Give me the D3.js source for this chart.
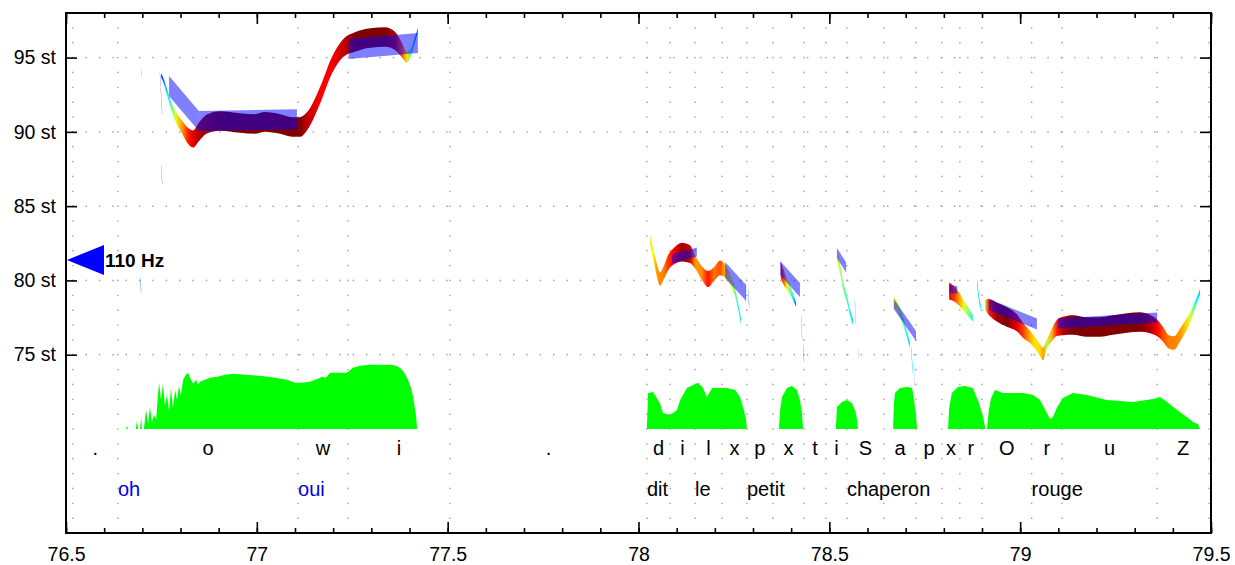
<!DOCTYPE html>
<html>
<head>
<meta charset="utf-8">
<script src="https://cdn.jsdelivr.net/npm/d3@7"></script>
<style>
  body { margin: 0; background: #fff; }
  svg { display: block; font-family: "Liberation Sans", Arial, sans-serif; }
</style>
</head>
<body>
<svg id="chart" width="1235" height="565"></svg>
<script>
// ---- time axis and pitch axis ----
const xMajorTicks = [76.5, 77, 77.5, 78, 78.5, 79, 79.5];
const yTicks = [75, 80, 85, 90, 95];
const refHz = 110;

// ---- segmentation tiers ----
const phoneLabels = [".", "o", "w", "i", ".", "d", "i", "l", "x", "p", "x", "t", "i", "S", "a", "p", "x", "r", "O", "r", "u", "Z"];
const phoneBounds = [76.518, 76.636, 77.108, 77.239, 77.506, 78.022, 78.083, 78.148, 78.219, 78.284, 78.352,
                     78.434, 78.491, 78.546, 78.643, 78.727, 78.795, 78.842, 78.900, 79.030, 79.110, 79.359, 79.495];
const wordLabels = ["oh", "oui", "dit", "le", "petit", "chaperon", "rouge"];
const wordStarts = [76.636, 77.108, 78.022, 78.148, 78.284, 78.546, 79.030];
const wordSpeaker = [1, 1, 0, 0, 0, 0, 0];

// ---- intensity envelopes: [time s, dB] ----
const intensityOhOui = [[76.657,40],[76.660,41.5],[76.662,40],[76.683,40],[76.686,44],[76.689,40],[76.694,40],[76.697,45.5],[76.699,40],
  [76.704,40],[76.710,49.5],[76.715,42.5],[76.720,51],[76.725,43.5],[76.731,47],[76.736,44.5],[76.741,57],[76.744,63],[76.749,54.5],
  [76.754,62.5],[76.759,52],[76.765,57],[76.770,48.5],[76.775,60.5],[76.780,50.5],[76.786,59.5],[76.791,54.5],[76.796,61.5],[76.801,57],
  [76.807,64.5],[76.814,67],[76.820,68],[76.825,65.5],[76.833,62.5],[76.841,64.5],[76.846,62],[76.851,63.5],[76.864,64.5],[76.877,65.5],
  [76.896,66],[76.917,67],[76.938,67.5],[76.969,67],[77.008,66.5],[77.048,65.5],[77.079,64.5],[77.100,63],[77.118,63],[77.139,63.5],
  [77.160,65],[77.171,66],[77.181,65.5],[77.192,68],[77.218,68],[77.236,68],[77.252,70.5],[77.270,71.5],[77.297,72],[77.323,72],
  [77.349,72],[77.365,71.5],[77.378,70],[77.388,67.5],[77.396,64.5],[77.404,60.5],[77.409,56.5],[77.414,50.5],[77.417,47],[77.420,40]];
const intensityDitLe = [[78.022,40],[78.025,58],[78.038,58.5],[78.056,53],[78.064,48],[78.083,47],[78.101,49.5],[78.109,54.5],[78.127,60.5],
  [78.156,63],[78.169,60.5],[78.179,56],[78.193,60.5],[78.214,60.5],[78.232,60.5],[78.253,59.5],[78.266,56],[78.276,49.5],[78.282,44.5],[78.284,40]];
const intensityPe = [[78.368,40],[78.371,49.5],[78.376,56],[78.389,60.5],[78.402,61.5],[78.415,59.5],[78.423,54.5],[78.428,48.5],[78.431,40]];
const intensityTi = [[78.517,40],[78.520,51],[78.533,53.5],[78.546,54.5],[78.559,53],[78.567,49.5],[78.572,45.5],[78.575,40]];
const intensityCha = [[78.667,40],[78.669,52],[78.672,58],[78.685,60.5],[78.704,61],[78.717,60.5],[78.722,54.5],[78.727,47],[78.730,40]];
const intensityPe2 = [[78.811,40],[78.814,50.5],[78.821,58],[78.837,61],[78.855,61.5],[78.876,60.5],[78.892,53],[78.903,46],[78.908,41],[78.910,40]];
const intensityRouge = [[78.913,40],[78.918,49.5],[78.924,55.5],[78.934,59.5],[78.955,58],[78.986,58],[79.007,58],[79.034,57],[79.052,54.5],
  [79.070,48],[79.078,45],[79.086,46],[79.097,51],[79.112,55.5],[79.138,58],[79.175,57],[79.227,54.5],[79.296,53.5],[79.348,55],
  [79.366,56],[79.385,53.5],[79.411,49.5],[79.437,46],[79.453,43.5],[79.466,42.5],[79.471,40]];

// ---- pitch contours: [time s, semitones, voicing strength 0..1] ----
const pitchOhOui = [[76.749,93.83,0.15],[76.757,93.36,0.25],[76.765,92.68,0.35],[76.775,91.81,0.45],[76.788,91.00,0.6],[76.804,90.33,0.72],
  [76.820,89.72,0.85],[76.833,89.52,0.9],[76.848,89.99,0.95],[76.869,90.53,0.97],[76.903,90.73,1],[76.956,90.60,1],[76.995,90.53,1],
  [77.021,90.67,1],[77.061,90.53,1],[77.092,90.33,1],[77.113,90.33,1],[77.134,90.80,0.93],[77.166,92.48,0.88],[77.197,94.50,0.88],
  [77.226,95.64,0.93],[77.257,96.05,1],[77.297,96.32,1],[77.336,96.38,1],[77.362,96.12,0.95],[77.380,95.51,0.8],[77.393,95.04,0.65],
  [77.404,95.38,0.45],[77.414,96.18,0.3],[77.422,96.86,0.2]];
const pitchDitLe = [[78.030,82.72,0.58],[78.038,81.85,0.62],[78.048,80.70,0.72],[78.056,80.10,0.74],[78.067,80.57,0.75],[78.077,81.17,0.82],
  [78.093,81.64,0.88],[78.114,81.91,0.97],[78.135,81.77,0.93],[78.150,81.17,0.72],[78.166,80.50,0.74],[78.182,80.10,0.86],[78.198,80.43,0.76],
  [78.214,80.84,0.8],[78.229,80.57,0.68],[78.242,79.96,0.6],[78.253,79.22,0.5],[78.261,78.28,0.4],[78.269,77.20,0.33]];
const pitchPe = [[78.373,80.70,0.88],[78.381,80.16,0.78],[78.389,79.76,0.62],[78.397,79.36,0.5],[78.405,78.88,0.38],[78.413,78.35,0.2]];
const pitchTi = [[78.520,81.64,0.6],[78.528,80.84,0.55],[78.536,79.69,0.5],[78.547,78.68,0.45],[78.554,77.87,0.38],[78.562,77.20,0.32]];
const pitchCha = [[78.669,78.55,0.62],[78.680,78.14,0.58],[78.690,77.54,0.5],[78.698,76.87,0.45],[78.706,76.13,0.38],[78.711,75.65,0.32]];
const pitchPe2 = [[78.814,79.29,0.9],[78.827,79.09,0.82],[78.840,78.75,0.72],[78.853,78.28,0.6],[78.866,77.81,0.5],[78.876,77.47,0.4]];
const pitchRouge = [[78.908,78.35,0.55],[78.918,78.21,0.85],[78.939,77.87,0.97],[78.965,77.54,1.0],[78.992,77.13,0.9],[79.007,76.66,0.82],
  [79.026,76.19,0.7],[79.039,75.79,0.65],[79.052,75.32,0.66],[79.060,75.05,0.72],[79.070,75.72,0.55],[79.083,76.33,0.7],[79.096,76.80,0.85],
  [79.112,76.93,0.95],[79.138,77.00,1.0],[79.175,76.87,1.0],[79.209,76.87,1.0],[79.243,77.00,1.0],[79.280,77.13,1.0],[79.314,77.20,1.0],
  [79.340,77.07,0.95],[79.359,76.80,0.88],[79.374,76.39,0.8],[79.390,75.86,0.75],[79.403,75.79,0.75],[79.419,76.33,0.73],[79.432,76.87,0.68],
  [79.445,77.47,0.6],[79.453,78.01,0.5],[79.463,78.68,0.38],[79.471,79.22,0.3]];
// short unstable pitch fragments
const pitchFragments = [
  [[76.746,93.96,0.12],[76.752,91.27,0.12]],
  [[76.749,87.77,0.12],[76.752,86.56,0.12]],
  [[76.694,80.16,0.2],[76.697,79.22,0.2]],
  [[76.698,94.16,0.3],[76.699,93.76,0.3]],
  [[78.279,80.23,0.15],[78.281,78.55,0.15]],
  [[78.287,79.36,0.2],[78.290,78.21,0.2]],
  [[78.426,77.54,0.15],[78.429,75.99,0.15]],
  [[78.431,75.65,0.18],[78.434,74.51,0.18]],
  [[78.567,78.68,0.2],[78.570,77.00,0.2]],
  [[78.575,75.32,0.2],[78.576,74.78,0.2]],
  [[78.714,75.45,0.35],[78.719,73.84,0.35]],
  [[78.722,74.31,0.2],[78.724,72.89,0.2]],
  [[78.887,79.96,0.3],[78.892,78.82,0.35],[78.897,78.14,0.4]]
];

// ---- stylized nuclei (glissandos) ----
const nucleusStart  = [76.770, 76.848, 77.241, 78.088, 78.227, 78.371, 78.520, 78.669, 78.814, 78.918, 79.099];
const nucleusEnd    = [76.848, 77.105, 77.422, 78.153, 78.282, 78.423, 78.544, 78.727, 78.835, 79.044, 79.359];
const nucleusStSt   = [93.09, 90.73, 95.58, 81.44, 80.70, 80.84, 81.85, 78.41, 79.42, 78.38, 77.10];
const nucleusEndSt  = [90.73, 90.85, 95.98, 81.91, 79.15, 79.36, 80.87, 76.26, 79.35, 77.07, 77.50];
const nucleusDb     = [80, 80, 80, 62.5, 73.5, 70.5, 64, 64, 61, 65.5, 64];

// ---- drawing ----
const x = d3.scaleLinear().domain([76.5, 79.5]).range([66, 1211]);
const y = d3.scaleLinear().domain([63, 98]).range([533, 13]);
const yI = d3.scaleLinear().domain([40, 80]).range([y(70), y(75.4)]);
const jet = d3.scaleLinear()
  .domain([0, 0.125, 0.375, 0.625, 0.875, 1])
  .range(["#00008f", "#0000ff", "#00ffff", "#ffff00", "#ff0000", "#800000"])
  .clamp(true);
const halfWidth = s => 0.08 + 0.58 * Math.pow(s, 1.5);   // band half-height in semitones
const glissHeight = d3.scaleLinear().domain([60, 80]).range([0.5, 1.35]);

const svg = d3.select("#chart");
const defs = svg.append("defs");
const plot = svg.append("g");

// dotted grid: rows at labelled semitones, columns at phone boundaries
const gridG = plot.append("g").attr("fill", "#a8a8a8");
const rowDots = [];
yTicks.forEach(st => {
  for (let t = 76.518; t <= 79.5; t += 0.035) rowDots.push([t, st]);
});
const colDots = [];
phoneBounds.forEach(t => {
  for (let st = 64; st <= 97; st++) colDots.push([t, st]);
});
gridG.selectAll("circle.r").data(rowDots).join("circle").attr("class", "r")
  .attr("cx", d => x(d[0])).attr("cy", d => y(d[1])).attr("r", 0.85);
gridG.selectAll("circle.c").data(colDots).join("circle").attr("class", "c")
  .attr("cx", d => x(d[0])).attr("cy", d => y(d[1])).attr("r", 0.85);

// intensity envelopes
const intensities = [intensityOhOui, intensityDitLe, intensityPe, intensityTi, intensityCha, intensityPe2, intensityRouge];
const iArea = d3.area().x(d => x(d[0])).y0(yI(40)).y1(d => yI(d[1])).curve(d3.curveLinear);
plot.append("g").selectAll("path").data(intensities).join("path")
  .attr("d", iArea).attr("fill", "#00ff00");

// pitch bands coloured by voicing strength
const contours = [pitchOhOui, pitchDitLe, pitchPe, pitchTi, pitchCha, pitchPe2, pitchRouge, ...pitchFragments];
const pArea = d3.area()
  .x(d => x(d[0]))
  .y0(d => y(d[1] - halfWidth(d[2])))
  .y1(d => y(d[1] + halfWidth(d[2])))
  .curve(d3.curveMonotoneX);
contours.forEach((c, i) => {
  const x0 = x(c[0][0]), x1 = x(c[c.length - 1][0]);
  const g = defs.append("linearGradient").attr("id", "pg" + i)
    .attr("gradientUnits", "userSpaceOnUse")
    .attr("x1", x0).attr("x2", x1).attr("y1", 0).attr("y2", 0);
  c.forEach(d => g.append("stop")
    .attr("offset", (x(d[0]) - x0) / (x1 - x0))
    .attr("stop-color", jet(d[2])));
});
plot.append("g").selectAll("path").data(contours).join("path")
  .attr("d", pArea).attr("fill", (d, i) => `url(#pg${i})`);

// glissando parallelograms
const nuclei = nucleusStart.map((t, i) => ({
  t0: t, t1: nucleusEnd[i], s0: nucleusStSt[i], s1: nucleusEndSt[i], h: glissHeight(nucleusDb[i])
}));
plot.append("g").selectAll("polygon").data(nuclei).join("polygon")
  .attr("points", d => [
    [x(d.t0), y(d.s0 + d.h / 2)], [x(d.t1), y(d.s1 + d.h / 2)],
    [x(d.t1), y(d.s1 - d.h / 2)], [x(d.t0), y(d.s0 - d.h / 2)]
  ].map(p => p.join(",")).join(" "))
  .attr("fill", "#0000ff").attr("fill-opacity", 0.5);

// phone tier
const phones = phoneLabels.map((l, i) => ({ l, t: (phoneBounds[i] + phoneBounds[i + 1]) / 2 }));
plot.append("g").selectAll("text").data(phones).join("text")
  .attr("x", d => x(d.t)).attr("y", 455)
  .attr("text-anchor", "middle").attr("font-size", 20).attr("fill", "#000")
  .text(d => d.l);

// word tier
plot.append("g").selectAll("text").data(wordLabels).join("text")
  .attr("x", (d, i) => x(wordStarts[i])).attr("y", 496)
  .attr("font-size", 20).attr("fill", (d, i) => wordSpeaker[i] ? "#0000dd" : "#000")
  .text(d => d);

// axes
const minorTicks = d3.range(0, 31).map(k => 76.5 + k * 0.1);
function styleAxis(g) {
  g.select(".domain").remove();
  g.selectAll("line").attr("stroke", "#000").attr("stroke-width", 1.6);
  g.attr("font-family", null).attr("font-size", 19.5);
  g.selectAll("text").attr("fill", "#000");
}
svg.append("g").attr("transform", `translate(0,${y(63)})`)
  .call(d3.axisBottom(x).tickValues(minorTicks).tickSizeInner(-5).tickSizeOuter(0).tickFormat(""))
  .call(styleAxis);
svg.append("g").attr("transform", `translate(0,${y(63)})`)
  .call(d3.axisBottom(x).tickValues(xMajorTicks).tickSizeInner(-11).tickSizeOuter(0).tickPadding(14.5).tickFormat(d => String(d)))
  .call(styleAxis);
svg.append("g").attr("transform", `translate(0,${y(98)})`)
  .call(d3.axisTop(x).tickValues(minorTicks).tickSizeInner(-5).tickSizeOuter(0).tickFormat(""))
  .call(styleAxis);
svg.append("g").attr("transform", `translate(0,${y(98)})`)
  .call(d3.axisTop(x).tickValues(xMajorTicks).tickSizeInner(-11).tickSizeOuter(0).tickFormat(""))
  .call(styleAxis);
svg.append("g").attr("transform", `translate(${x(76.5)},0)`)
  .call(d3.axisLeft(y).tickValues(yTicks).tickSizeInner(-11).tickSizeOuter(0).tickPadding(10).tickFormat(d => d + " st"))
  .call(styleAxis);
svg.append("g").attr("transform", `translate(${x(79.5)},0)`)
  .call(d3.axisRight(y).tickValues(yTicks).tickSizeInner(-11).tickSizeOuter(0).tickFormat(""))
  .call(styleAxis);

// frame
svg.append("rect")
  .attr("x", x(76.5)).attr("y", y(98))
  .attr("width", x(79.5) - x(76.5)).attr("height", y(63) - y(98))
  .attr("fill", "none").attr("stroke", "#000").attr("stroke-width", 2);

// reference pitch marker
const refSt = 12 * Math.log2(refHz);
const ry = y(refSt), rx = x(76.5) + 1;
svg.append("path")
  .attr("d", `M${rx},${ry} L${rx + 37},${ry - 15} L${rx + 37},${ry + 15} Z`)
  .attr("fill", "#0000ff");
svg.append("text")
  .attr("x", rx + 38).attr("y", ry).attr("dy", "0.35em")
  .attr("font-size", 19).attr("font-weight", "bold").attr("fill", "#000")
  .text(refHz + " Hz");
</script>
</body>
</html>
